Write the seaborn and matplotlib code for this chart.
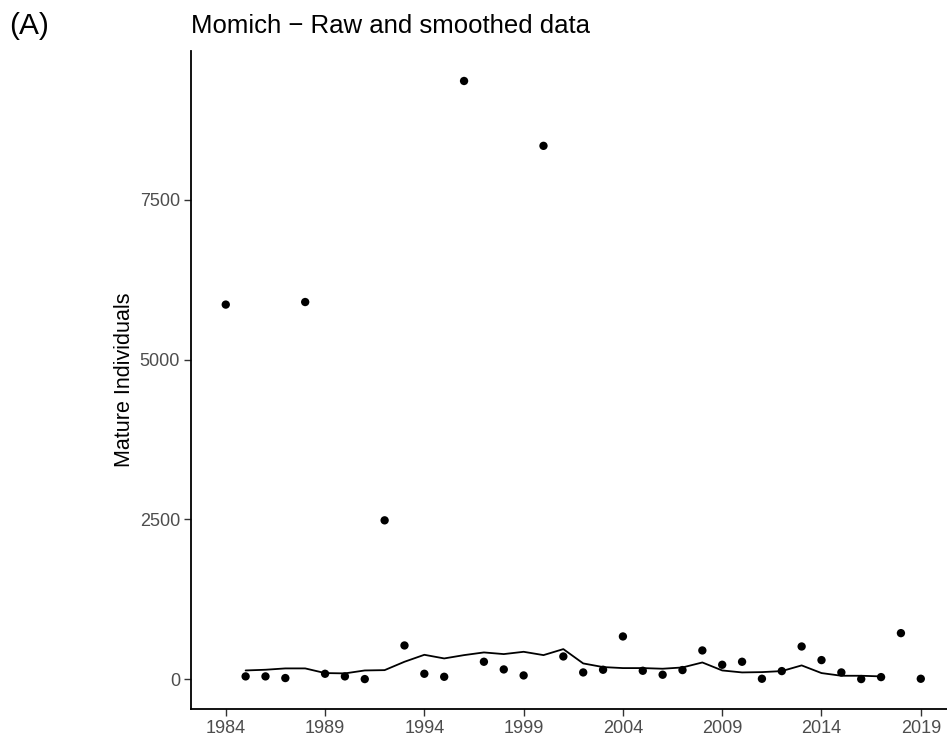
import matplotlib
matplotlib.use("Agg")
import matplotlib.pyplot as plt
import seaborn as sns
import pandas as pd
import numpy as np

years = list(range(1984, 2020))
raw = [5860, 42, 42, 16, 5900, 83, 42, 0, 2484, 526, 83, 36, 9359, 271, 151, 57,
       8344, 354, 104, 146, 667, 130, 68, 141, 448, 224, 271, 5, 125, 510, 297, 104,
       0, 31, 719, 5]
smooth_years = list(range(1985, 2018))
smooth = [135, 146, 167, 167, 94, 89, 135, 140, 271, 380, 323, 375, 417, 391, 427, 375,
          469, 245, 188, 172, 172, 162, 182, 260, 135, 104, 109, 125, 214, 94, 52, 52, 42]

df_raw = pd.DataFrame({"Year": years, "Mature Individuals": raw})
df_s = pd.DataFrame({"Year": smooth_years, "Smoothed": smooth})

sns.set_style("white")
plt.rcParams['font.family'] = ['Liberation Sans', 'DejaVu Sans']

fig = plt.figure(figsize=(9.47, 7.36), dpi=100)
ax = fig.add_axes([0.2017, 0.0367, 0.7983, 0.894])

sns.lineplot(data=df_s, x="Year", y="Smoothed", color="black", linewidth=1.3, ax=ax)
sns.scatterplot(data=df_raw, x="Year", y="Mature Individuals", color="black", s=36,
                edgecolor="none", ax=ax)

ax.set_xlim(1982.25, 2020.32)
ax.set_ylim(-468, 9828)
ax.set_xticks(list(range(1984, 2020, 5)))
ax.set_yticks([0, 2500, 5000, 7500])
ax.tick_params(axis="both", labelsize=13, labelcolor="#4D4D4D", color="#333333",
               length=5, width=1, direction="out", left=True, bottom=True, pad=3)
for s in ["top", "right"]:
    ax.spines[s].set_visible(False)
for s in ["left", "bottom"]:
    ax.spines[s].set_color("black")
    ax.spines[s].set_linewidth(1.3)
ax.set_xlabel("")
ax.set_ylabel("Mature Individuals", fontsize=15.5, color="black", labelpad=3)
ax.set_title("Momich \u2212 Raw and smoothed data", loc="left", fontsize=18.5,
             color="black", pad=13)
fig.text(0.010, 0.965, "(A)", fontsize=21.5, ha="left", va="center", color="black")

fig.savefig("out.png", dpi=100)
